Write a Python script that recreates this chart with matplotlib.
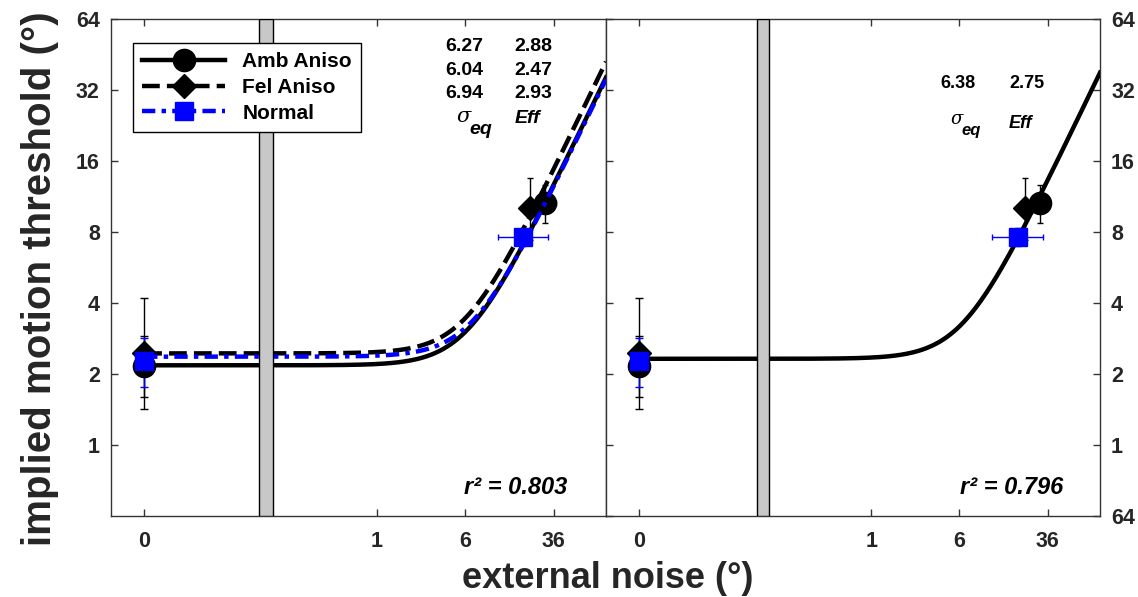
import numpy as np
import matplotlib.pyplot as plt
from matplotlib.ticker import FixedLocator, NullLocator

plt.rcParams['font.family'] = ['Liberation Sans', 'DejaVu Sans']
plt.rcParams['font.weight'] = 'bold'
plt.rcParams['lines.scale_dashes'] = True

# fitted equivalent-noise parameters per group
groups = ['Amb Aniso', 'Fel Aniso', 'Normal']
sigma_eq = [6.27, 6.04, 6.94]
eff = [2.88, 2.47, 2.93]
r2_sep = 0.803

# pooled fit (right panel)
pooled_sigma_eq = 6.38
pooled_eff = 2.75
r2_pooled = 0.796

# measured thresholds, zero external noise
zero_pos = 0.009          # where "0" sits on the log axis
thr_zero = [2.16, 2.45, 2.27]
thr_zero_lo = [1.60, 1.42, 1.76]
thr_zero_hi = [2.90, 4.20, 2.85]

# measured thresholds, high external noise
noise_high = [30.5, 22.5, 19.5]
noise_high_lo = [26.4, 22.5, 11.7]
noise_high_hi = [37.4, 22.5, 32.4]
thr_high = [10.6, 10.1, 7.6]
thr_high_lo = [8.7, 7.4, 7.0]
thr_high_hi = [12.7, 13.5, 8.3]

xticks = [zero_pos, 1, 6, 36]
xticklabels = ['0', '1', '6', '36']
yticks = [1, 2, 4, 8, 16, 32, 64]
yticklabels = ['1', '2', '4', '8', '16', '32', '64']

colors = ['black', 'black', '#0000ff']
markers = ['o', 'D', 's']
msizes = [16, 12.5, 13]
dashes = [None, (4, 1.6), (3, 1.4, 1, 1.4)]

xlim = (0.0046, 104)
ylim = (0.5, 64)
axcol = '#333333'

fig = plt.figure(figsize=(11.38, 5.97), dpi=100)
ax1 = fig.add_axes([111/1138, 1-516/597, 495/1138, 497/597])
ax2 = fig.add_axes([606/1138, 1-516/597, 494/1138, 497/597])

xs = np.logspace(np.log10(zero_pos), np.log10(xlim[1]), 400)


def draw_points(ax):
    for i in range(3):
        yerr0 = [[thr_zero[i] - thr_zero_lo[i]], [thr_zero_hi[i] - thr_zero[i]]]
        ax.errorbar([zero_pos], [thr_zero[i]], yerr=yerr0, fmt='none',
                    ecolor=colors[i], elinewidth=1, capsize=3, zorder=2)
        yerr1 = [[thr_high[i] - thr_high_lo[i]], [thr_high_hi[i] - thr_high[i]]]
        xerr1 = [[noise_high[i] - noise_high_lo[i]], [noise_high_hi[i] - noise_high[i]]]
        ax.errorbar([noise_high[i]], [thr_high[i]], yerr=yerr1, xerr=xerr1, fmt='none',
                    ecolor=colors[i], elinewidth=1, capsize=2, zorder=2)
    order = [1, 0, 2]
    for i in order:
        ax.plot([zero_pos, noise_high[i]], [thr_zero[i], thr_high[i]], linestyle='none',
                marker=markers[i], ms=msizes[i], color=colors[i], zorder=3 if i < 2 else 5)


def style_axis(ax, side):
    ax.set_xscale('log')
    ax.set_yscale('log', base=2)
    ax.set_xlim(*xlim)
    ax.set_ylim(*ylim)
    ax.xaxis.set_major_locator(FixedLocator(xticks))
    ax.xaxis.set_minor_locator(NullLocator())
    ax.set_xticklabels(xticklabels)
    ax.yaxis.set_minor_locator(NullLocator())
    for s in ax.spines.values():
        s.set_color(axcol)
        s.set_linewidth(1)
    ax.tick_params(axis='both', direction='in', length=5, width=1, color=axcol,
                   labelcolor='#262626', labelsize=15.5, top=True)
    ax.tick_params(axis='x', pad=11)
    if side == 'left':
        ax.yaxis.set_major_locator(FixedLocator(yticks))
        ax.set_yticklabels(yticklabels)
        ax.tick_params(axis='y', left=True, right=False, pad=8)
    else:
        ax.yaxis.set_major_locator(FixedLocator([0.5] + yticks))
        ax.set_yticklabels(['64'] + yticklabels)
        ax.tick_params(axis='y', left=True, right=True, labelleft=False,
                       labelright=True, pad=8)


# left panel: separate fits
draw_points(ax1)
handles = []
for i in range(3):
    ys = np.sqrt(sigma_eq[i]**2 + xs**2) / eff[i]
    ln, = ax1.plot(xs, ys, color=colors[i], lw=3.2, zorder=4)
    if dashes[i] is not None:
        ln.set_dashes(dashes[i])
    handles.append(ax1.plot([], [], color=colors[i], lw=3.2, marker=markers[i],
                            ms=msizes[i], dashes=dashes[i] if dashes[i] else (None, None),
                            label=groups[i])[0])
ax1.axvspan(0.092, 0.123, facecolor='#c8c8c8', edgecolor='black', lw=1, zorder=6)
style_axis(ax1, 'left')

leg = ax1.legend(handles=handles, loc='upper left', bbox_to_anchor=(0.044, 0.952),
                 borderaxespad=0, frameon=True, fancybox=False, edgecolor='black',
                 handlelength=4.0, fontsize=15, labelspacing=0.32, borderpad=0.45,
                 handletextpad=0.8, framealpha=1)
leg.get_frame().set_linewidth(1)
leg.set_zorder(10)

rows_y = [0.944, 0.897, 0.851]
for i in range(3):
    ax1.text(0.675, rows_y[i], f'{sigma_eq[i]:.2f}', transform=ax1.transAxes,
             fontsize=14, va='center', ha='left')
    ax1.text(0.814, rows_y[i], f'{eff[i]:.2f}', transform=ax1.transAxes,
             fontsize=14, va='center', ha='left')
ax1.text(0.697, 0.803, 'σ', transform=ax1.transAxes, fontsize=15, style='italic',
         weight='normal', va='center', ha='left', family='DejaVu Serif')
ax1.text(0.725, 0.778, 'eq', transform=ax1.transAxes, fontsize=14, style='italic',
         va='center', ha='left')
ax1.text(0.816, 0.800, 'Eff', transform=ax1.transAxes, fontsize=14, style='italic',
         va='center', ha='left')
ax1.text(0.713, 0.058, f'r² = {r2_sep:.3f}', transform=ax1.transAxes, fontsize=17,
         style='italic', va='center', ha='left')

# right panel: pooled fit
draw_points(ax2)
ys = np.sqrt(pooled_sigma_eq**2 + xs**2) / pooled_eff
ax2.plot(xs, ys, color='black', lw=3.2, zorder=4)
ax2.axvspan(0.098, 0.127, facecolor='#c8c8c8', edgecolor='black', lw=1, zorder=6)
style_axis(ax2, 'right')

ax2.text(0.676, 0.871, f'{pooled_sigma_eq:.2f}', transform=ax2.transAxes,
         fontsize=13, va='center', ha='left')
ax2.text(0.816, 0.871, f'{pooled_eff:.2f}', transform=ax2.transAxes,
         fontsize=13, va='center', ha='left')
ax2.text(0.698, 0.798, 'σ', transform=ax2.transAxes, fontsize=13, style='italic',
         weight='normal', va='center', ha='left', family='DejaVu Serif')
ax2.text(0.719, 0.776, 'eq', transform=ax2.transAxes, fontsize=12, style='italic',
         va='center', ha='left')
ax2.text(0.816, 0.790, 'Eff', transform=ax2.transAxes, fontsize=13, style='italic',
         va='center', ha='left')
ax2.text(0.716, 0.058, f'r² = {r2_pooled:.3f}', transform=ax2.transAxes, fontsize=17,
         style='italic', va='center', ha='left')

fig.text(40/1138, 1-279/597, 'implied motion threshold (°)', rotation=90,
         fontsize=29, color='#262626', ha='center', va='center')
fig.text(608/1138, 1-578/597, 'external noise (°)', fontsize=26, color='#262626',
         ha='center', va='center')

fig.savefig('out.png', dpi=100)
